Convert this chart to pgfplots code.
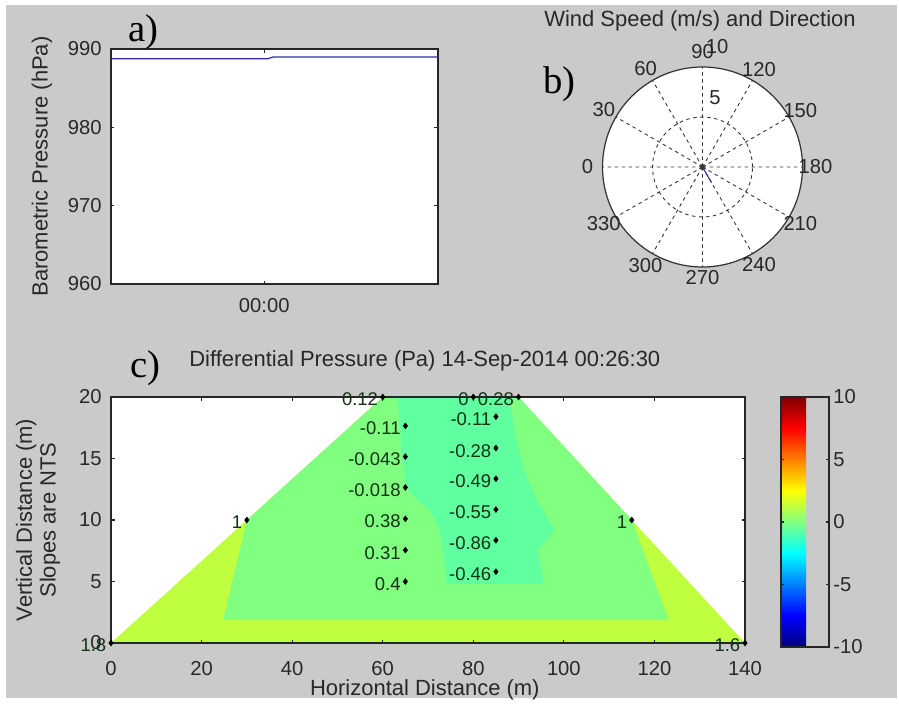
\documentclass[border=0pt]{standalone}
\usepackage{pgfplots}
\pgfplotsset{compat=1.18}
\usepgfplotslibrary{polar}
\usepackage{fontspec}
\setmainfont{Liberation Sans}
\newfontfamily\panelfont{Liberation Serif}
\definecolor{figgray}{RGB}{202,202,202}
\definecolor{txt}{RGB}{40,40,40}
\definecolor{yg}{RGB}{191,255,64}
\definecolor{lg}{RGB}{128,255,128}
\definecolor{aq}{RGB}{96,255,160}
\definecolor{lbl}{RGB}{20,50,20}
\definecolor{pline}{RGB}{45,45,160}
\pgfplotsset{
  matlab/.style={
    scale only axis,
    axis line style={line width=0.8pt, black!85},
    major tick length=0.07cm,
    tick style={line width=0.6pt, black!85},
    tick label style={font=\fontsize{11.5}{13}\selectfont, text=txt},
    yticklabel style={anchor=east, inner sep=0pt, xshift=-0.18cm},
    label style={font=\fontsize{12.5}{13.6}\selectfont, text=txt},
    /pgf/number format/assume math mode=true,
    axis background/.style={fill=white},
  }
}
\begin{document}
\begin{tikzpicture}
\path[use as bounding box] (0,0) rectangle (17.98,14.1);
\fill[white] (0,0) rectangle (17.98,14.1);
\fill[figgray] (0.12,0.14) rectangle (17.94,14.0);

% ---------- panel a ----------
\begin{axis}[matlab,
  at={(2.22cm,8.42cm)}, anchor=south west, width=6.54cm, height=4.70cm,
  xmin=-30, xmax=34, ymin=960, ymax=990,
  xtick={0}, xticklabels={00:00},
  ytick={960,970,980,990},
  xticklabel style={anchor=base, yshift=-0.56cm},
  ylabel={Barometric Pressure (hPa)},
  ylabel style={at={(axis description cs:-0.211,0.5)}, anchor=center},
]
\addplot[pline, line width=0.7pt] coordinates {(-30,988.75) (0.7,988.75) (1.7,988.98) (34,988.98)};
\end{axis}
\node[anchor=base west, inner sep=0pt, text=black] at (2.56,13.26) {\panelfont\fontsize{22}{26}\selectfont a)};

% ---------- panel b ----------
\fill[white] (14.05,10.76) circle (2cm);
\begin{polaraxis}[
  at={(14.05cm,10.76cm)}, anchor=center, scale only axis, width=4cm, height=4cm,
  ymin=0, ymax=10, xtick={0,30,...,330}, ytick={5},
  xticklabels={}, yticklabels={},
  tick label style={opacity=0},
  grid=major, major grid style={dash pattern=on 2pt off 2pt, line width=0.5pt, black!80},
  axis line style={line width=0.7pt, black!80},
  y axis line style={draw=none},
  xtick style={draw=none}, ytick style={draw=none},
  clip=false,
]
\addplot[pline, line width=0.6pt] coordinates {(0,0) (-60,1.8)};
\begin{scope}[every node/.style={font=\fontsize{11.5}{13}\selectfont, text=txt, inner sep=0pt}]
\node at (axis cs:180,11.5) {0};
\node at (axis cs:150,11.4) {30};
\node at (axis cs:120,11.4) {60};
\node at (axis cs:90,11.5) {90};
\node at (axis cs:60,11.3) {120};
\node at (axis cs:30,11.3) {150};
\node at (axis cs:0,11.3) {180};
\node at (axis cs:-30,11.3) {210};
\node at (axis cs:-60,11.3) {240};
\node at (axis cs:-90,11.1) {270};
\node at (axis cs:-120,11.4) {300};
\node at (axis cs:-150,11.4) {330};
\node at (axis cs:79.7,7.0) {5};
\node at (axis cs:83.1,12.1) {10};
\end{scope}
\end{polaraxis}
\node[anchor=base, inner sep=0pt, text=txt] at (14.0,13.56) {\fontsize{12.5}{14}\selectfont Wind Speed (m/s) and Direction};
\node[anchor=base west, inner sep=0pt, text=black] at (10.86,12.24) {\panelfont\fontsize{22}{26}\selectfont b)};

% ---------- panel c ----------
\begin{axis}[matlab,
  at={(2.22cm,1.24cm)}, anchor=south west, width=12.68cm, height=4.92cm,
  xmin=0, xmax=140, ymin=0, ymax=20,
  xtick={0,20,...,140}, ytick={0,5,...,20},
  xticklabel style={anchor=base, yshift=-0.64cm},
  axis on top, clip=false,
  colormap/jet, point meta min=-10, point meta max=10,
  colorbar,
  colorbar style={
    at={(1.0568,1)}, anchor=north west, scale only axis,
    width=0.96cm, height=5.0cm,
    ytick={-10,-5,0,5,10},
    yticklabel pos=right,
    major tick length=0.06cm,
    axis line style={line width=0.8pt, black!85},
    tick style={line width=0.6pt, black!85},
    yticklabel style={anchor=west, inner sep=0pt, xshift=0.08cm, font=\fontsize{11.5}{13}\selectfont, text=txt},
    /pgf/number format/assume math mode=true,
  },
  title={Differential Pressure (Pa) 14-Sep-2014 00:26:30},
  title style={at={(axis description cs:0.495,1)}, anchor=base, yshift=0.4cm, font=\fontsize{12.5}{14}\selectfont, text=txt},
  xlabel={Horizontal Distance (m)},
  xlabel style={at={(axis description cs:0.495,-0.2154)}, anchor=base},
  ylabel={Vertical Distance (m)\\Slopes are NTS},
  ylabel style={at={(axis description cs:-0.1151,0.5)}, anchor=center, align=center},
]
\addplot[fill=yg, draw=none] coordinates {(0,0) (60,20) (90,20) (140,0) (0,0)};
\addplot[fill=lg, draw=none] coordinates {(24.8,1.9) (30,10) (60,20) (90,20) (115,10) (123.1,1.9) (24.8,1.9)};
\addplot[fill=aq, draw=none] coordinates {(63.1,20) (63.8,17.9) (64.2,15.1) (65.3,12.7) (66.8,11.9) (70.4,10.8) (71.8,9.8) (72.6,9.3) (73.4,7.3) (74.1,4.8) (95.5,4.8) (94.3,7.6) (98.0,9.2) (94.0,11.6) (91.0,14.3) (89.2,17.05) (88.1,20) (63.1,20)};
\addplot[only marks, mark=diamond*, mark size=1.6pt, black,
  nodes near coords, point meta=explicit symbolic,
  nodes near coords style={anchor=east, inner sep=2.5pt, yshift=-1.5pt, font=\fontsize{10.5}{12}\selectfont, text=lbl}]
  table[meta=lab] {
x y lab
0 0 1.8
30 10 1
60 20 0.12
65 17.65 -0.11
65 15.15 -0.043
65 12.65 -0.018
65 10.1 0.38
65 7.55 0.31
65 5.0 0.4
80 20 0
90 20 0.28
85 18.4 -0.11
85 15.85 -0.28
85 13.35 -0.49
85 10.85 -0.55
85 8.35 -0.86
85 5.8 -0.46
115 10 1
140 0 1.6
};
\end{axis}
\node[anchor=base west, inner sep=0pt, text=black] at (2.6,6.56) {\panelfont\fontsize{22}{26}\selectfont c)};
\end{tikzpicture}
\end{document}
